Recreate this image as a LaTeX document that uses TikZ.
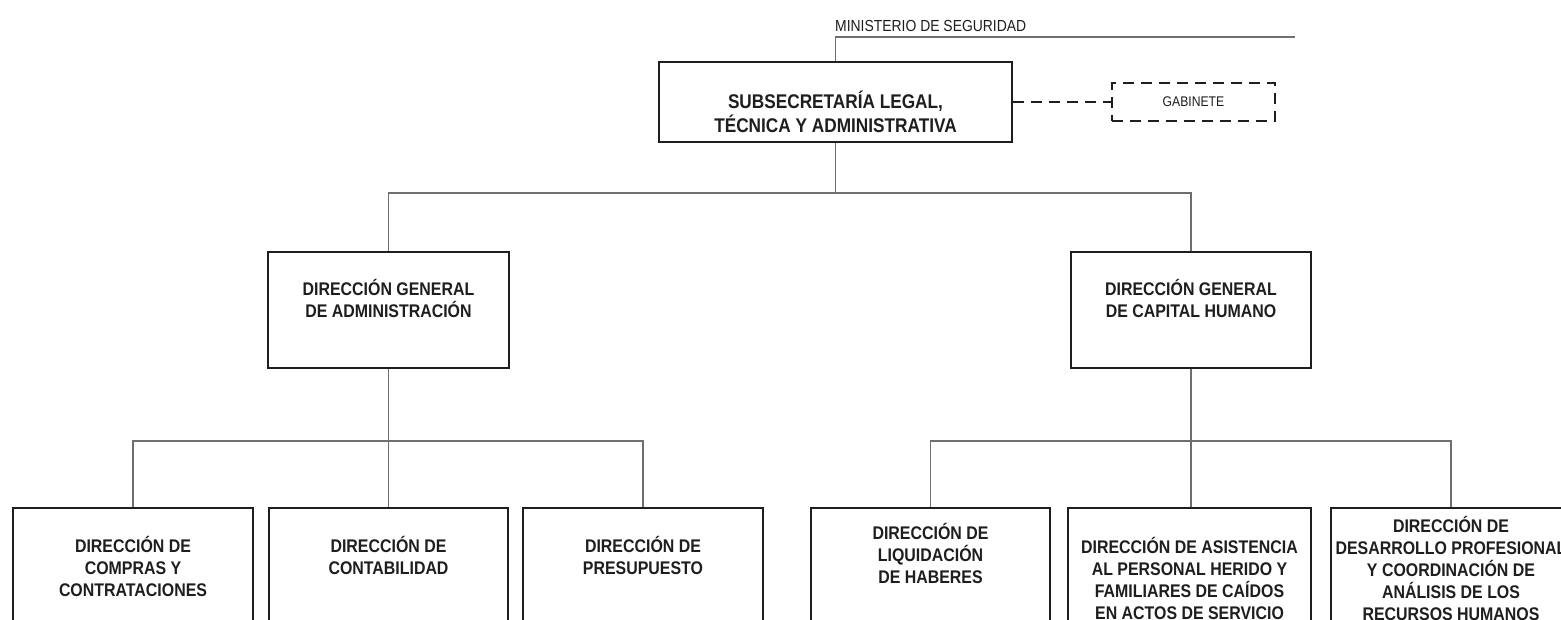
\documentclass[tikz,border=0pt]{standalone}
\usepackage{fontspec}
\setmainfont{Liberation Sans}[FakeStretch=0.87]
\definecolor{ink}{HTML}{1E1E1E}
\definecolor{wire}{HTML}{6E6E6E}
\tikzset{
  box/.style={draw=ink, line width=2.4pt, fill=white, inner sep=0pt},
  dbox/.style={draw=ink, line width=2pt, dash pattern=on 11pt off 7pt, inner sep=0pt},
  conn/.style={draw=wire, line width=1.1pt},
  dconn/.style={draw=ink, line width=2pt, dash pattern=on 11pt off 7pt},
  lbl/.style={align=center, text=ink, font=\bfseries\fontsize{18.3}{22}\selectfont, inner sep=0pt},
  mlbl/.style={align=center, text=ink, font=\bfseries\fontsize{19.8}{24}\selectfont, inner sep=0pt},
  slbl/.style={align=center, text=ink, inner sep=0pt}
}
\begin{document}
\begin{tikzpicture}[x=1pt,y=-1pt]
\useasboundingbox (0,0) rectangle (1561,620);
\fill[white] (0,0) rectangle (1561,620);

% top
\node[slbl, anchor=base west, font=\fontsize{16}{18}\selectfont] (min) at (835,32) {MINISTERIO DE SEGURIDAD};
\node[box, minimum width=353pt, minimum height=80pt] (main) at (835.5,102) {};
\node[mlbl] (maint) at (835.5,111.5) {SUBSECRETARÍA LEGAL,\\TÉCNICA Y ADMINISTRATIVA};
\node[dbox, minimum width=163pt, minimum height=38pt, font=\fontsize{14}{16}\selectfont, text=ink] (gab) at (1193.5,102) {GABINETE};
\coordinate (mtop) at (835.5,37);
\coordinate (mend) at (1295,37);
\draw[conn] (main.north) -- (mtop) -- (mend);
\draw[dconn] (main.east) -- (gab.west);

% second level
\node[box, minimum width=241pt, minimum height=116pt] (dga) at (388.5,310) {};
\node[lbl] (dgat) at (388.5,298) {DIRECCIÓN GENERAL\\DE ADMINISTRACIÓN};
\node[box, minimum width=240pt, minimum height=116pt] (dgc) at (1191,310) {};
\node[lbl] (dgct) at (1191,298) {DIRECCIÓN GENERAL\\DE CAPITAL HUMANO};
\coordinate (j1) at (835.5,193);
\draw[conn] (main.south) -- (j1);
\draw[conn] (dga.north) |- (j1) -| (dgc.north);

% third level
\node[box, minimum width=240pt, minimum height=134pt] (b1) at (133,575) {};
\node[box, minimum width=239pt, minimum height=134pt] (b2) at (388.5,575) {};
\node[box, minimum width=240pt, minimum height=134pt] (b3) at (643,575) {};
\node[box, minimum width=239pt, minimum height=134pt] (b4) at (930.5,575) {};
\node[box, minimum width=243pt, minimum height=134pt] (b5) at (1189.5,575) {};
\node[box, minimum width=240pt, minimum height=134pt] (b6) at (1451,575) {};

\node[lbl] (b1t) at (133,566) {DIRECCIÓN DE\\COMPRAS Y\\CONTRATACIONES};
\node[lbl] (b2t) at (388.5,555) {DIRECCIÓN DE\\CONTABILIDAD};
\node[lbl] (b3t) at (643,555) {DIRECCIÓN DE\\PRESUPUESTO};
\node[lbl] (b4t) at (930.5,553) {DIRECCIÓN DE\\LIQUIDACIÓN\\DE HABERES};
\node[lbl] (b5t) at (1189.5,578) {DIRECCIÓN DE ASISTENCIA\\AL PERSONAL HERIDO Y\\FAMILIARES DE CAÍDOS\\EN ACTOS DE SERVICIO};
\node[lbl] (b6t) at (1451,568) {DIRECCIÓN DE\\DESARROLLO PROFESIONAL\\Y COORDINACIÓN DE\\ANÁLISIS DE LOS\\RECURSOS HUMANOS};

\coordinate (j2) at (388.5,441);
\coordinate (j3) at (1191,441);
\draw[conn] (dga.south) -- (b2.north);
\draw[conn] (b1.north) |- (j2) -| (b3.north);
\draw[conn] (dgc.south) -- (j3);
\draw[conn] (b4.north) |- (j3) -| (b6.north);
\draw[conn] (j3) -- (j3 |- b5.north);
\end{tikzpicture}
\end{document}
